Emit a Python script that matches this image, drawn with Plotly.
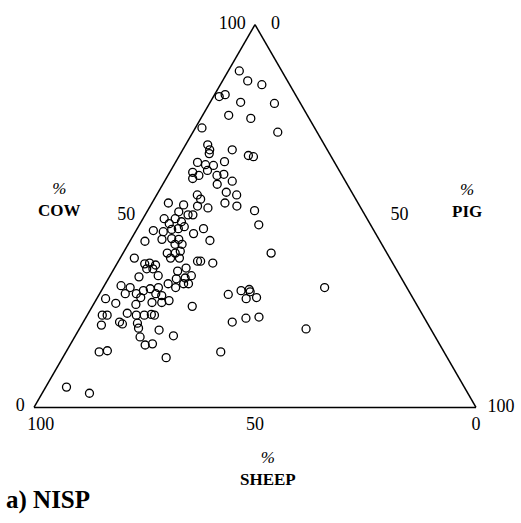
import plotly.graph_objects as go

# % composition per site
cow = [87.9, 85.3, 84.3, 81.2, 81.7, 79.7, 79.4, 76.3, 75.5, 73.0, 71.9, 68.6, 67.3, 66.3, 67.3, 65.8, 65.5,
       64.0, 63.4, 63.2, 64.2, 61.4, 59.8, 60.6, 61.9, 60.6, 60.9, 58.3, 59.1, 55.5, 54.4, 56.2, 55.5, 53.4,
       52.6, 53.4, 52.9, 52.6, 52.1, 51.4, 47.7, 51.1, 50.3, 50.3, 49.3, 49.3, 48.0, 48.5, 46.2, 45.9, 46.5,
       46.7, 47.2, 45.4, 46.7, 43.9, 44.1, 43.9, 42.6, 42.6, 43.4, 43.6, 40.3, 40.3, 40.8, 39.0, 39.0, 39.0,
       37.5, 37.7, 37.2, 36.2, 36.2, 38.2, 38.2, 37.7, 36.4, 34.1, 34.4, 35.6, 33.6, 33.8, 34.4, 31.8, 31.3,
       32.3, 31.3, 32.3, 32.3, 29.7, 29.7, 30.5, 31.0, 31.3, 28.7, 29.7, 29.2, 27.9, 27.4, 27.4, 26.9, 28.4,
       27.2, 26.4, 24.1, 24.1, 24.6, 24.1, 24.1, 24.3, 24.1, 21.5, 22.3, 21.8, 22.0, 20.7, 20.2, 18.7, 18.4,
       16.3, 16.6, 14.5, 14.8, 13.0, 5.3, 3.7, 40.3, 29.5, 30.5, 30.8, 30.2, 28.4, 28.7, 31.3, 22.3, 23.3,
       23.6, 20.5, 14.5]
pig = [2.5, 5.7, 9.4, 1.3, 2.4, 6.9, 14.7, 5.9, 11.3, 1.5, 19.2, 5.0, 6.1, 6.5, 11.2, 15.6, 16.9,
       5.0, 7.1, 9.0, 11.0, 5.2, 6.0, 7.0, 8.3, 11.1, 12.5, 12.3, 15.3, 9.2, 10.5, 15.4, 18.1, 16.5,
       19.6, 3.7, 7.4, 10.7, 13.3, 24.2, 27.0, 7.2, 9.7, 10.8, 4.8, 7.3, 6.6, 9.1, 3.9, 6.3, 7.9,
       9.3, 10.4, 13.4, 15.0, 7.0, 9.1, 10.8, 10.6, 12.2, 3.4, 18.0, 10.0, 11.8, 12.7, 11.4, 13.4, 3.2,
       6.3, 7.3, 8.9, 7.4, 8.8, 17.9, 18.6, 21.6, 16.2, 6.7, 10.9, 14.7, 15.4, 17.3, 18.4, 3.8, 6.1,
       14.2, 16.4, 17.7, 18.8, 5.8, 8.3, 9.5, 10.8, 12.5, 9.8, 12.7, 14.3, 16.6, 13.0, 15.2, 9.6, 2.0,
       4.9, 22.6, 3.4, 4.5, 8.8, 11.1, 12.9, 14.4, 15.2, 4.5, 8.2, 9.1, 12.4, 13.3, 18.2, 22.2, 14.8,
       17.0, 18.5, 7.5, 9.2, 23.4, 4.7, 10.7, 33.5, 29.2, 31.6, 33.3, 33.8, 33.8, 36.0, 50.1, 33.7, 36.3,
       39.1, 51.3, 35.0]
sheep = [round(100 - a - c, 1) for a, c in zip(cow, pig)]

tick_vals = [0, 50, 100]
tick_text = ["0", "50", "100"]

font_family = "Liberation Serif, Times New Roman, serif"
W, H = 521, 523
NB = "\u00a0"

fig = go.Figure()
fig.add_trace(go.Scatterternary(
    a=cow, b=sheep, c=pig, mode="markers",
    marker=dict(symbol="circle-open", size=8, color="black", line=dict(width=1.3, color="black")),
    hoverinfo="skip", showlegend=False))

def axis(ticklen, texts):
    return dict(
        tickvals=tick_vals, ticktext=texts, showgrid=False,
        ticks="outside" if ticklen > 0 else "", ticklen=max(ticklen, 0),
        tickcolor="rgba(0,0,0,0)",
        linecolor="black", linewidth=1.5, showline=True, title=dict(text=""),
        tickfont=dict(family=font_family, size=18, color="black"), min=0)

b_text = [tick_text[0], tick_text[1], NB * 3 + tick_text[2]]
c_text = [NB * 3 + tick_text[0], NB * 5 + tick_text[1], NB * 2 + tick_text[2]]

fig.update_layout(
    width=W, height=H, margin=dict(l=0, r=0, t=0, b=0, pad=0, autoexpand=False),
    paper_bgcolor="white", plot_bgcolor="white",
    ternary=dict(
        sum=100, bgcolor="white",
        domain=dict(x=[34 / W, 476 / W], y=[1 - 408 / H, 1 - 24 / H]),
        aaxis=axis(6, tick_text),
        baxis=axis(0, b_text),
        caxis=axis(0, c_text)),
    font=dict(family=font_family, color="black"),
)

def label(text, px, py, size=17, anchor="center"):
    fig.add_annotation(text=text, x=px / W, y=1 - py / H, xref="paper", yref="paper",
                       xanchor=anchor, yanchor="middle", showarrow=False, align="center",
                       font=dict(family=font_family, size=size, color="black"))

label("<i>%</i><br><b>COW</b>", 59, 200)
label("<i>%</i><br><b>PIG</b>", 467, 201)
label("<i>%</i><br><b>SHEEP</b>", 268, 468)
label("<b>a) NISP</b>", 4, 500, size=25, anchor="left")

fig.write_html("out.html", config={"displayModeBar": False},
               post_script="document.body.style.margin='0px';document.body.style.padding='0px';")
